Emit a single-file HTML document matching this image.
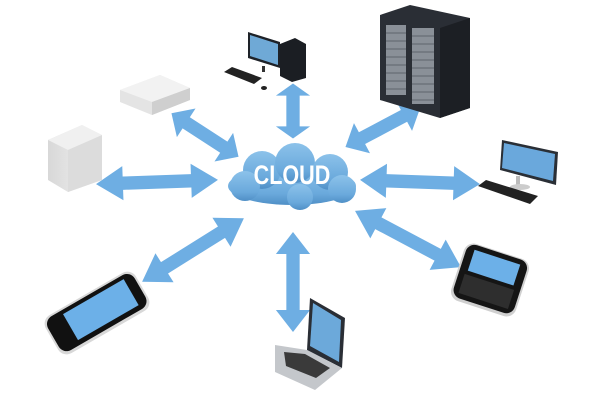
<!DOCTYPE html>
<html><head><style>html,body{margin:0;padding:0;background:#fff}svg{display:block}</style></head>
<body>
<svg width="600" height="400" viewBox="0 0 600 400" xmlns="http://www.w3.org/2000/svg">
<defs>
<linearGradient id="cl" x1="0" y1="0" x2="0" y2="1"><stop offset="0" stop-color="#8cc2ea"/><stop offset="0.7" stop-color="#6aa9dc"/><stop offset="1" stop-color="#4f8fc6"/></linearGradient>
<linearGradient id="gr" x1="0" y1="0" x2="1" y2="0"><stop offset="0" stop-color="#d8d8d8"/><stop offset="1" stop-color="#f4f4f4"/></linearGradient>
<g id="arr"><polygon points="-50,0 -28,-18 -28,-7 28,-7 28,-18 50,0 28,18 28,7 -28,7 -28,18" fill="#6eaee3"/></g>
</defs>
<g transform="translate(205,135) rotate(33) scale(0.8,0.95)"><use href="#arr"/></g>
<g transform="translate(293,111) rotate(90) scale(0.55,0.95)"><use href="#arr"/></g>
<g transform="translate(383,127) rotate(-28) scale(0.85,0.95)"><use href="#arr"/></g>
<g transform="translate(157,182) rotate(-2) scale(1.22,0.95)"><use href="#arr"/></g>
<g transform="translate(420,182) rotate(2) scale(1.2,0.95)"><use href="#arr"/></g>
<g transform="translate(193,250) rotate(-32) scale(1.2,0.95)"><use href="#arr"/></g>
<g transform="translate(293,282) rotate(90) scale(1.0,0.95)"><use href="#arr"/></g>
<g transform="translate(408,239) rotate(28) scale(1.2,0.95)"><use href="#arr"/></g>
<g fill="url(#cl)">
<ellipse cx="292" cy="186" rx="64" ry="19"/>
<circle cx="262" cy="170" r="19"/><circle cx="295" cy="163" r="20"/><circle cx="330" cy="172" r="18"/>
<circle cx="245" cy="186" r="15"/><circle cx="342" cy="189" r="14"/><circle cx="300" cy="197" r="13"/>
</g>
<text x="292" y="184" text-anchor="middle" font-family="Liberation Sans, sans-serif" font-weight="bold" font-size="27" fill="#fff" transform="translate(292,0) scale(0.8,1) translate(-292,0)">CLOUD</text>
<polygon points="380,15 410,5 470,18 470,108 440,118 380,100" fill="#2a2e35"/>
<polygon points="440,28 470,18 470,108 440,118" fill="#1c1f24"/>
<g fill="#8a9098"><rect x="386" y="25" width="20" height="70"/><rect x="412" y="28" width="22" height="76"/></g>
<g stroke="#5e646c" stroke-width="1"><path d="M386 33h20M386 41h20M386 49h20M386 57h20M386 65h20M386 73h20M386 81h20M386 89h20M412 36h22M412 44h22M412 52h22M412 60h22M412 68h22M412 76h22M412 84h22M412 92h22M412 100h22"/></g>
<polygon points="248,32 280,42 280,68 248,58" fill="#1e2228"/><polygon points="250,35 278,44 278,65 250,56" fill="#6fa9d6"/>
<polygon points="280,44 295,38 306,44 306,78 292,82 280,76" fill="#1b1e23"/>
<polygon points="224,72 232,67 262,78 254,84" fill="#222"/><ellipse cx="264" cy="88" rx="3" ry="2" fill="#222"/>
<rect x="262" y="66" width="3" height="6" fill="#333"/>
<polygon points="120,90 160,75 190,88 190,100 152,115 120,102" fill="#e4e4e4"/>
<polygon points="120,90 160,75 190,88 152,102" fill="#f2f2f2"/>
<polygon points="152,102 190,88 190,100 152,115" fill="#cfcfcf"/>
<polygon points="48,140 82,125 102,135 102,180 68,192 48,180" fill="url(#gr)"/>
<polygon points="48,140 82,125 102,135 68,150" fill="#f0f0f0"/>
<polygon points="68,150 102,135 102,180 68,192" fill="#dcdcdc"/>
<polygon points="502,140 558,152 556,185 500,170" fill="#2a2f36"/><polygon points="504,143 555,154 553,181 502,168" fill="#6aa8dc"/>
<rect x="516" y="176" width="4" height="10" fill="#bbb"/><ellipse cx="520" cy="187" rx="10" ry="3" fill="#ccc"/>
<polygon points="478,186 486,180 538,196 530,204" fill="#222"/>
<g transform="translate(97,313) rotate(-30)">
<rect x="-52" y="-22" width="104" height="44" rx="10" fill="#d8d8d8"/>
<rect x="-50" y="-20" width="100" height="39" rx="9" fill="#111"/>
<rect x="-30" y="-16" width="70" height="30" fill="#6cb0e8"/></g>
<polygon points="310,298 345,318 342,368 307,350" fill="#2a2e35"/>
<polygon points="313,303 341,320 339,362 310,346" fill="#6ca9da"/>
<polygon points="275,345 307,350 342,368 315,390 275,372" fill="#c4c7cb"/>
<polygon points="284,352 305,354 330,368 316,378 286,366" fill="#3a3a3a"/>
<g transform="translate(490,280) rotate(18)">
<rect x="-34" y="-30" width="68" height="60" rx="10" fill="#d0d0d0"/>
<rect x="-32" y="-29" width="64" height="56" rx="9" fill="#151515"/>
<rect x="-24" y="-24" width="48" height="22" fill="#6cb0e8"/>
<rect x="-26" y="2" width="52" height="20" fill="#2e2e2e"/></g>
</svg>
</body></html>
